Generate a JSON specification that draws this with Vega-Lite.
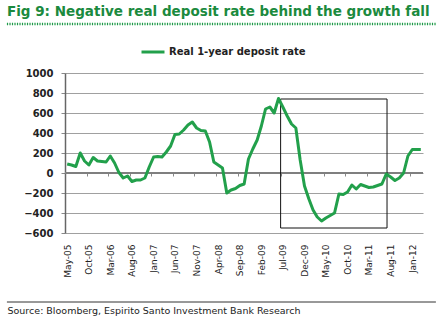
{
  "$schema": "https://vega.github.io/schema/vega-lite/v6.json",
  "width": 358,
  "height": 160,
  "autosize": {"type": "none"},
  "padding": {"left": 65, "top": 73, "right": 15, "bottom": 88},
  "background": "white",
  "config": {"view": {"stroke": null}, "font": "DejaVu Sans"},
  "title": {
    "text": "Fig 9: Negative real deposit rate behind the growth fall",
    "anchor": "start",
    "frame": "group",
    "dx": -58,
    "font": "DejaVu Sans",
    "fontSize": 13.5,
    "fontWeight": "bold",
    "color": "#1b8a3e",
    "offset": 4
  },
  "resolve": {"axis": {"x": "independent", "y": "independent"}},
  "layer": [
    {
      "data": {"values": [{}]},
      "mark": {"type": "rule", "color": "#7f7f7f", "strokeWidth": 2},
      "encoding": {
        "y": {"datum": 0, "type": "quantitative", "scale": {"domain": [-600, 1000], "nice": false, "zero": false}, "axis": null}
      }
    },
    {
      "data": {"values": [{}]},
      "mark": {"type": "rect", "fill": null, "fillOpacity": 0, "stroke": "#111111", "strokeWidth": 1},
      "encoding": {
        "x": {
          "datum": {"year": 2009, "month": 7, "date": 1, "utc": true},
          "type": "temporal",
          "scale": {"type": "utc", "domain": [{"year": 2005, "month": 5, "date": 1, "utc": true}, {"year": 2012, "month": 4, "date": 1, "utc": true}], "nice": false},
          "axis": {
            "orient": "bottom",
            "offset": -60,
            "values": [
              {"year": 2005, "month": 10, "date": 1, "utc": true},
              {"year": 2006, "month": 3, "date": 1, "utc": true},
              {"year": 2006, "month": 8, "date": 1, "utc": true},
              {"year": 2007, "month": 1, "date": 1, "utc": true},
              {"year": 2007, "month": 6, "date": 1, "utc": true},
              {"year": 2007, "month": 11, "date": 1, "utc": true},
              {"year": 2008, "month": 4, "date": 1, "utc": true},
              {"year": 2008, "month": 9, "date": 1, "utc": true},
              {"year": 2009, "month": 2, "date": 1, "utc": true},
              {"year": 2009, "month": 7, "date": 1, "utc": true},
              {"year": 2009, "month": 12, "date": 1, "utc": true},
              {"year": 2010, "month": 5, "date": 1, "utc": true},
              {"year": 2010, "month": 10, "date": 1, "utc": true},
              {"year": 2011, "month": 3, "date": 1, "utc": true},
              {"year": 2011, "month": 8, "date": 1, "utc": true},
              {"year": 2012, "month": 1, "date": 1, "utc": true}
            ],
            "labels": false,
            "domain": false,
            "grid": false,
            "ticks": true,
            "tickSize": 3,
            "tickColor": "#888888",
            "title": null
          }
        },
        "x2": {"datum": {"year": 2011, "month": 7, "date": 22, "utc": true}},
        "y": {"datum": 740, "type": "quantitative", "scale": {"domain": [-600, 1000], "nice": false, "zero": false}, "axis": null},
        "y2": {"datum": -550}
      }
    },
    {
      "data": {"values": [{}]},
      "mark": {"type": "rule", "color": "#1f9a48", "strokeWidth": 2.5, "strokeDash": [1.2, 1.3]},
      "encoding": {
        "x": {"datum": {"year": 2004, "month": 3, "date": 17, "utc": true}, "type": "temporal", "scale": {"type": "utc", "domain": [{"year": 2005, "month": 5, "date": 1, "utc": true}, {"year": 2012, "month": 4, "date": 1, "utc": true}], "nice": false}, "axis": null},
        "x2": {"datum": {"year": 2012, "month": 7, "date": 1, "utc": true}},
        "y": {"datum": 1490, "type": "quantitative", "scale": {"domain": [-600, 1000], "nice": false, "zero": false}, "axis": null}
      }
    },
    {
      "data": {"values": [{}]},
      "mark": {"type": "rule", "color": "#333333", "strokeWidth": 1},
      "encoding": {
        "x": {"datum": {"year": 2004, "month": 3, "date": 17, "utc": true}, "type": "temporal", "scale": {"type": "utc", "domain": [{"year": 2005, "month": 5, "date": 1, "utc": true}, {"year": 2012, "month": 4, "date": 1, "utc": true}], "nice": false}, "axis": null},
        "x2": {"datum": {"year": 2012, "month": 7, "date": 1, "utc": true}},
        "y": {"datum": -1290, "type": "quantitative", "scale": {"domain": [-600, 1000], "nice": false, "zero": false}, "axis": null}
      }
    },
    {
      "data": {
        "values": [
          {"month": "2005-05", "rate": 90},
          {"month": "2005-06", "rate": 80},
          {"month": "2005-07", "rate": 65},
          {"month": "2005-08", "rate": 200},
          {"month": "2005-09", "rate": 120},
          {"month": "2005-10", "rate": 80},
          {"month": "2005-11", "rate": 155},
          {"month": "2005-12", "rate": 120},
          {"month": "2006-01", "rate": 115},
          {"month": "2006-02", "rate": 110},
          {"month": "2006-03", "rate": 170},
          {"month": "2006-04", "rate": 100},
          {"month": "2006-05", "rate": 5},
          {"month": "2006-06", "rate": -50},
          {"month": "2006-07", "rate": -30},
          {"month": "2006-08", "rate": -85},
          {"month": "2006-09", "rate": -70},
          {"month": "2006-10", "rate": -70},
          {"month": "2006-11", "rate": -50},
          {"month": "2006-12", "rate": 60},
          {"month": "2007-01", "rate": 160},
          {"month": "2007-02", "rate": 165},
          {"month": "2007-03", "rate": 160},
          {"month": "2007-04", "rate": 210},
          {"month": "2007-05", "rate": 270},
          {"month": "2007-06", "rate": 385},
          {"month": "2007-07", "rate": 390},
          {"month": "2007-08", "rate": 430},
          {"month": "2007-09", "rate": 480},
          {"month": "2007-10", "rate": 510},
          {"month": "2007-11", "rate": 450},
          {"month": "2007-12", "rate": 425},
          {"month": "2008-01", "rate": 420},
          {"month": "2008-02", "rate": 310},
          {"month": "2008-03", "rate": 110},
          {"month": "2008-04", "rate": 80},
          {"month": "2008-05", "rate": 50},
          {"month": "2008-06", "rate": -200},
          {"month": "2008-07", "rate": -170},
          {"month": "2008-08", "rate": -155},
          {"month": "2008-09", "rate": -125},
          {"month": "2008-10", "rate": -110},
          {"month": "2008-11", "rate": 140},
          {"month": "2008-12", "rate": 240},
          {"month": "2009-01", "rate": 330},
          {"month": "2009-02", "rate": 470},
          {"month": "2009-03", "rate": 640},
          {"month": "2009-04", "rate": 660},
          {"month": "2009-05", "rate": 600},
          {"month": "2009-06", "rate": 745},
          {"month": "2009-07", "rate": 660},
          {"month": "2009-08", "rate": 570},
          {"month": "2009-09", "rate": 490},
          {"month": "2009-10", "rate": 450},
          {"month": "2009-11", "rate": 130},
          {"month": "2009-12", "rate": -130},
          {"month": "2010-01", "rate": -260},
          {"month": "2010-02", "rate": -370},
          {"month": "2010-03", "rate": -440},
          {"month": "2010-04", "rate": -480},
          {"month": "2010-05", "rate": -450},
          {"month": "2010-06", "rate": -425},
          {"month": "2010-07", "rate": -400},
          {"month": "2010-08", "rate": -210},
          {"month": "2010-09", "rate": -215},
          {"month": "2010-10", "rate": -190},
          {"month": "2010-11", "rate": -120},
          {"month": "2010-12", "rate": -160},
          {"month": "2011-01", "rate": -115},
          {"month": "2011-02", "rate": -130},
          {"month": "2011-03", "rate": -145},
          {"month": "2011-04", "rate": -140},
          {"month": "2011-05", "rate": -125},
          {"month": "2011-06", "rate": -110},
          {"month": "2011-07", "rate": -10},
          {"month": "2011-08", "rate": -40},
          {"month": "2011-09", "rate": -75},
          {"month": "2011-10", "rate": -50},
          {"month": "2011-11", "rate": 0},
          {"month": "2011-12", "rate": 170},
          {"month": "2012-01", "rate": 235},
          {"month": "2012-02", "rate": 235},
          {"month": "2012-03", "rate": 235}
        ]
      },
      "mark": {"type": "line", "strokeWidth": 3, "strokeJoin": "round", "strokeCap": "butt"},
      "encoding": {
        "x": {
          "field": "month",
          "type": "temporal",
          "timeUnit": "utcyearmonth",
          "bandPosition": 0.5,
          "scale": {"type": "utc", "domain": [{"year": 2005, "month": 5, "date": 1, "utc": true}, {"year": 2012, "month": 4, "date": 1, "utc": true}], "nice": false},
          "axis": {
            "orient": "bottom",
            "values": [
              {"year": 2005, "month": 5, "date": 16, "utc": true},
              {"year": 2005, "month": 10, "date": 16, "utc": true},
              {"year": 2006, "month": 3, "date": 16, "utc": true},
              {"year": 2006, "month": 8, "date": 16, "utc": true},
              {"year": 2007, "month": 1, "date": 16, "utc": true},
              {"year": 2007, "month": 6, "date": 16, "utc": true},
              {"year": 2007, "month": 11, "date": 16, "utc": true},
              {"year": 2008, "month": 4, "date": 16, "utc": true},
              {"year": 2008, "month": 9, "date": 16, "utc": true},
              {"year": 2009, "month": 2, "date": 15, "utc": true},
              {"year": 2009, "month": 7, "date": 16, "utc": true},
              {"year": 2009, "month": 12, "date": 16, "utc": true},
              {"year": 2010, "month": 5, "date": 16, "utc": true},
              {"year": 2010, "month": 10, "date": 16, "utc": true},
              {"year": 2011, "month": 3, "date": 16, "utc": true},
              {"year": 2011, "month": 8, "date": 16, "utc": true},
              {"year": 2012, "month": 1, "date": 16, "utc": true}
            ],
            "labelExpr": "utcFormat(datum.value, '%b-%y')",
            "labelAngle": -90,
            "labelFont": "DejaVu Sans",
            "labelFontSize": 9,
            "labelColor": "#222222",
            "labelOverlap": false,
            "labelBound": false,
            "labelFlush": false,
            "ticks": false,
            "tickSize": 0,
            "domain": false,
            "grid": false,
            "labelPadding": 11,
            "title": "Source: Bloomberg, Espirito Santo Investment Bank Research",
            "titleX": -58,
            "titleY": 77,
            "titleAlign": "left",
            "titleAnchor": "start",
            "titleBaseline": "middle",
            "titleFont": "DejaVu Sans",
            "titleFontSize": 9.5,
            "titleFontWeight": "normal",
            "titleColor": "#222222"
          }
        },
        "y": {
          "field": "rate",
          "type": "quantitative",
          "scale": {"domain": [-600, 1000], "nice": false, "zero": false},
          "axis": {
            "values": [-600, -400, -200, 0, 200, 400, 600, 800, 1000],
            "format": "d",
            "grid": true,
            "gridColor": "#a0a0a0",
            "gridWidth": 1,
            "domainColor": "#666666",
            "domainWidth": 1.5,
            "tickColor": "#888888",
            "tickSize": 4,
            "labelPadding": 8,
            "labelFont": "DejaVu Sans",
            "labelFontSize": 10,
            "labelFontWeight": "bold",
            "labelColor": "#222222",
            "title": null
          }
        },
        "color": {
          "datum": "Real 1-year deposit rate",
          "type": "nominal",
          "scale": {"range": ["#22a04b"]},
          "legend": {
            "orient": "none",
            "legendX": 75,
            "legendY": -34,
            "title": null,
            "symbolType": "stroke",
            "symbolSize": 529,
            "symbolStrokeWidth": 3,
            "labelFont": "DejaVu Sans",
            "labelFontSize": 10,
            "labelFontWeight": "bold",
            "labelColor": "#222222",
            "labelOffset": 3,
            "padding": 0
          }
        }
      }
    }
  ]
}
